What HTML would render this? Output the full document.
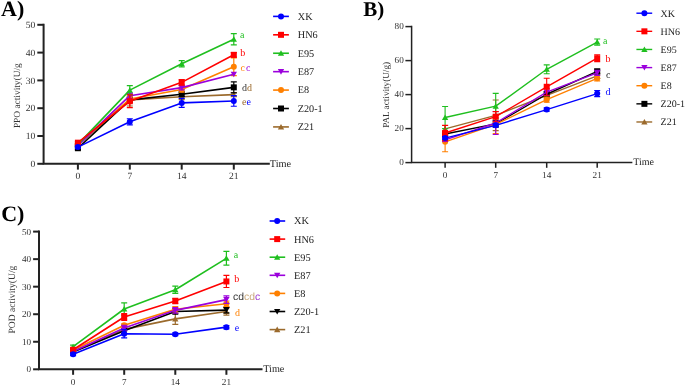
<!DOCTYPE html>
<html><head><meta charset="utf-8"><style>
html,body{margin:0;padding:0;background:#fff;}
svg{display:block;font-family:"Liberation Serif", serif;will-change:transform;text-rendering:geometricPrecision;filter:blur(0.35px);}
</style></head><body>
<svg width="685" height="386" viewBox="0 0 685 386">
<rect width="685" height="386" fill="#fff"/>
<polyline points="77.90,145.45 129.80,99.86 181.70,96.80 233.80,94.58" fill="none" stroke="#9b6a2c" stroke-width="1.6" stroke-linejoin="round"/>
<path d="M77.90 144.62V146.29M74.90 144.62H80.90M74.90 146.29H80.90" stroke="#9b6a2c" stroke-width="1.2" fill="none"/>
<path d="M129.80 93.74V105.98M126.80 93.74H132.80M126.80 105.98H132.80" stroke="#9b6a2c" stroke-width="1.2" fill="none"/>
<path d="M181.70 94.02V99.58M178.70 94.02H184.70M178.70 99.58H184.70" stroke="#9b6a2c" stroke-width="1.2" fill="none"/>
<path d="M233.80 92.63V96.52M230.80 92.63H236.80M230.80 96.52H236.80" stroke="#9b6a2c" stroke-width="1.2" fill="none"/>
<path d="M77.90 142.45L81.05 148.00L74.75 148.00Z" fill="#9b6a2c"/>
<path d="M129.80 96.86L132.95 102.41L126.65 102.41Z" fill="#9b6a2c"/>
<path d="M181.70 93.80L184.85 99.35L178.55 99.35Z" fill="#9b6a2c"/>
<path d="M233.80 91.58L236.95 97.13L230.65 97.13Z" fill="#9b6a2c"/>
<polyline points="77.90,148.23 129.80,99.86 181.70,94.30 233.80,87.35" fill="none" stroke="#000000" stroke-width="1.6" stroke-linejoin="round"/>
<path d="M77.90 146.84V149.62M74.90 146.84H80.90M74.90 149.62H80.90" stroke="#000000" stroke-width="1.2" fill="none"/>
<path d="M129.80 97.08V102.64M126.80 97.08H132.80M126.80 102.64H132.80" stroke="#000000" stroke-width="1.2" fill="none"/>
<path d="M181.70 92.08V96.52M178.70 92.08H184.70M178.70 96.52H184.70" stroke="#000000" stroke-width="1.2" fill="none"/>
<path d="M233.80 81.79V92.91M230.80 81.79H236.80M230.80 92.91H236.80" stroke="#000000" stroke-width="1.2" fill="none"/>
<rect x="74.90" y="145.23" width="6.00" height="6.00" fill="#000000"/>
<rect x="126.80" y="96.86" width="6.00" height="6.00" fill="#000000"/>
<rect x="178.70" y="91.30" width="6.00" height="6.00" fill="#000000"/>
<rect x="230.80" y="84.35" width="6.00" height="6.00" fill="#000000"/>
<polyline points="77.90,144.34 129.80,99.03 181.70,89.57 233.80,66.78" fill="none" stroke="#ff8000" stroke-width="1.6" stroke-linejoin="round"/>
<path d="M77.90 143.23V145.45M74.90 143.23H80.90M74.90 145.45H80.90" stroke="#ff8000" stroke-width="1.2" fill="none"/>
<path d="M129.80 96.25V101.81M126.80 96.25H132.80M126.80 101.81H132.80" stroke="#ff8000" stroke-width="1.2" fill="none"/>
<path d="M181.70 87.07V92.08M178.70 87.07H184.70M178.70 92.08H184.70" stroke="#ff8000" stroke-width="1.2" fill="none"/>
<path d="M233.80 57.88V75.67M230.80 57.88H236.80M230.80 75.67H236.80" stroke="#ff8000" stroke-width="1.2" fill="none"/>
<circle cx="77.90" cy="144.34" r="3.00" fill="#ff8000"/>
<circle cx="129.80" cy="99.03" r="3.00" fill="#ff8000"/>
<circle cx="181.70" cy="89.57" r="3.00" fill="#ff8000"/>
<circle cx="233.80" cy="66.78" r="3.00" fill="#ff8000"/>
<polyline points="77.90,145.45 129.80,95.69 181.70,87.63 233.80,74.28" fill="none" stroke="#9b00dc" stroke-width="1.6" stroke-linejoin="round"/>
<path d="M77.90 144.62V146.29M74.90 144.62H80.90M74.90 146.29H80.90" stroke="#9b00dc" stroke-width="1.2" fill="none"/>
<path d="M129.80 92.91V98.47M126.80 92.91H132.80M126.80 98.47H132.80" stroke="#9b00dc" stroke-width="1.2" fill="none"/>
<path d="M181.70 85.40V89.85M178.70 85.40H184.70M178.70 89.85H184.70" stroke="#9b00dc" stroke-width="1.2" fill="none"/>
<path d="M77.90 148.45L81.05 142.90L74.75 142.90Z" fill="#9b00dc"/>
<path d="M129.80 98.69L132.95 93.14L126.65 93.14Z" fill="#9b00dc"/>
<path d="M181.70 90.63L184.85 85.08L178.55 85.08Z" fill="#9b00dc"/>
<path d="M233.80 77.28L236.95 71.73L230.65 71.73Z" fill="#9b00dc"/>
<polyline points="77.90,144.34 129.80,90.13 181.70,63.72 233.80,39.26" fill="none" stroke="#1fbf1f" stroke-width="1.6" stroke-linejoin="round"/>
<path d="M77.90 143.23V145.45M74.90 143.23H80.90M74.90 145.45H80.90" stroke="#1fbf1f" stroke-width="1.2" fill="none"/>
<path d="M129.80 85.68V94.58M126.80 85.68H132.80M126.80 94.58H132.80" stroke="#1fbf1f" stroke-width="1.2" fill="none"/>
<path d="M181.70 60.66V66.78M178.70 60.66H184.70M178.70 66.78H184.70" stroke="#1fbf1f" stroke-width="1.2" fill="none"/>
<path d="M233.80 33.70V44.82M230.80 33.70H236.80M230.80 44.82H236.80" stroke="#1fbf1f" stroke-width="1.2" fill="none"/>
<path d="M77.90 141.34L81.05 146.89L74.75 146.89Z" fill="#1fbf1f"/>
<path d="M129.80 87.13L132.95 92.68L126.65 92.68Z" fill="#1fbf1f"/>
<path d="M181.70 60.72L184.85 66.27L178.55 66.27Z" fill="#1fbf1f"/>
<path d="M233.80 36.26L236.95 41.81L230.65 41.81Z" fill="#1fbf1f"/>
<polyline points="77.90,142.67 129.80,101.25 181.70,82.35 233.80,54.82" fill="none" stroke="#ff0000" stroke-width="1.6" stroke-linejoin="round"/>
<path d="M77.90 141.56V143.78M74.90 141.56H80.90M74.90 143.78H80.90" stroke="#ff0000" stroke-width="1.2" fill="none"/>
<path d="M129.80 94.86V107.64M126.80 94.86H132.80M126.80 107.64H132.80" stroke="#ff0000" stroke-width="1.2" fill="none"/>
<path d="M181.70 79.57V85.13M178.70 79.57H184.70M178.70 85.13H184.70" stroke="#ff0000" stroke-width="1.2" fill="none"/>
<path d="M233.80 52.60V57.05M230.80 52.60H236.80M230.80 57.05H236.80" stroke="#ff0000" stroke-width="1.2" fill="none"/>
<rect x="74.90" y="139.67" width="6.00" height="6.00" fill="#ff0000"/>
<rect x="126.80" y="98.25" width="6.00" height="6.00" fill="#ff0000"/>
<rect x="178.70" y="79.35" width="6.00" height="6.00" fill="#ff0000"/>
<rect x="230.80" y="51.82" width="6.00" height="6.00" fill="#ff0000"/>
<polyline points="77.90,147.12 129.80,121.82 181.70,102.92 233.80,100.97" fill="none" stroke="#0000ff" stroke-width="1.6" stroke-linejoin="round"/>
<path d="M77.90 146.01V148.23M74.90 146.01H80.90M74.90 148.23H80.90" stroke="#0000ff" stroke-width="1.2" fill="none"/>
<path d="M129.80 118.76V124.88M126.80 118.76H132.80M126.80 124.88H132.80" stroke="#0000ff" stroke-width="1.2" fill="none"/>
<path d="M181.70 98.47V107.37M178.70 98.47H184.70M178.70 107.37H184.70" stroke="#0000ff" stroke-width="1.2" fill="none"/>
<path d="M233.80 95.69V106.25M230.80 95.69H236.80M230.80 106.25H236.80" stroke="#0000ff" stroke-width="1.2" fill="none"/>
<circle cx="77.90" cy="147.12" r="3.00" fill="#0000ff"/>
<circle cx="129.80" cy="121.82" r="3.00" fill="#0000ff"/>
<circle cx="181.70" cy="102.92" r="3.00" fill="#0000ff"/>
<circle cx="233.80" cy="100.97" r="3.00" fill="#0000ff"/>
<path d="M43.60 24.80V163.80H268.80" stroke="#222" stroke-width="2.0" fill="none" stroke-linecap="square"/>
<path d="M37.30 163.80H43.60" stroke="#222" stroke-width="2.0"/>
<text x="35.30" y="167.00" text-anchor="end" font-size="9.6" fill="#333">0</text>
<path d="M37.30 136.00H43.60" stroke="#222" stroke-width="2.0"/>
<text x="35.30" y="139.20" text-anchor="end" font-size="9.6" fill="#333">10</text>
<path d="M37.30 108.20H43.60" stroke="#222" stroke-width="2.0"/>
<text x="35.30" y="111.40" text-anchor="end" font-size="9.6" fill="#333">20</text>
<path d="M37.30 80.40H43.60" stroke="#222" stroke-width="2.0"/>
<text x="35.30" y="83.60" text-anchor="end" font-size="9.6" fill="#333">30</text>
<path d="M37.30 52.60H43.60" stroke="#222" stroke-width="2.0"/>
<text x="35.30" y="55.80" text-anchor="end" font-size="9.6" fill="#333">40</text>
<path d="M37.30 24.80H43.60" stroke="#222" stroke-width="2.0"/>
<text x="35.30" y="28.00" text-anchor="end" font-size="9.6" fill="#333">50</text>
<path d="M77.90 163.80V169.60" stroke="#222" stroke-width="2.0"/>
<text x="77.90" y="179.30" text-anchor="middle" font-size="9.6" fill="#333">0</text>
<path d="M129.80 163.80V169.60" stroke="#222" stroke-width="2.0"/>
<text x="129.80" y="179.30" text-anchor="middle" font-size="9.6" fill="#333">7</text>
<path d="M181.70 163.80V169.60" stroke="#222" stroke-width="2.0"/>
<text x="181.70" y="179.30" text-anchor="middle" font-size="9.6" fill="#333">14</text>
<path d="M233.80 163.80V169.60" stroke="#222" stroke-width="2.0"/>
<text x="233.80" y="179.30" text-anchor="middle" font-size="9.6" fill="#333">21</text>
<text x="269.80" y="166.50" font-size="10.3" fill="#222">Time</text>
<text transform="translate(20.30,95.70) rotate(-90)" text-anchor="middle" font-size="9.4" fill="#333">PPO activity(U/g</text>
<text x="1.00" y="16.20" font-size="22" font-weight="bold" fill="#000">A)</text>
<path d="M273.10 16.40H288.90" stroke="#0000ff" stroke-width="1.6"/>
<circle cx="281.00" cy="16.40" r="3.00" fill="#0000ff"/>
<text x="297.80" y="19.80" font-size="10.2" fill="#222">XK</text>
<path d="M273.10 34.82H288.90" stroke="#ff0000" stroke-width="1.6"/>
<rect x="278.00" y="31.82" width="6.00" height="6.00" fill="#ff0000"/>
<text x="297.80" y="38.22" font-size="10.2" fill="#222">HN6</text>
<path d="M273.10 53.24H288.90" stroke="#1fbf1f" stroke-width="1.6"/>
<path d="M281.00 50.24L284.15 55.79L277.85 55.79Z" fill="#1fbf1f"/>
<text x="297.80" y="56.64" font-size="10.2" fill="#222">E95</text>
<path d="M273.10 71.66H288.90" stroke="#9b00dc" stroke-width="1.6"/>
<path d="M281.00 74.66L284.15 69.11L277.85 69.11Z" fill="#9b00dc"/>
<text x="297.80" y="75.06" font-size="10.2" fill="#222">E87</text>
<path d="M273.10 90.08H288.90" stroke="#ff8000" stroke-width="1.6"/>
<circle cx="281.00" cy="90.08" r="3.00" fill="#ff8000"/>
<text x="297.80" y="93.48" font-size="10.2" fill="#222">E8</text>
<path d="M273.10 108.50H288.90" stroke="#000000" stroke-width="1.6"/>
<rect x="278.00" y="105.50" width="6.00" height="6.00" fill="#000000"/>
<text x="297.80" y="111.90" font-size="10.2" fill="#222">Z20-1</text>
<path d="M273.10 126.92H288.90" stroke="#9b6a2c" stroke-width="1.6"/>
<path d="M281.00 123.92L284.15 129.47L277.85 129.47Z" fill="#9b6a2c"/>
<text x="297.80" y="130.32" font-size="10.2" fill="#222">Z21</text>
<text x="240.00" y="37.90" font-size="10" font-family='"Liberation Serif", serif'><tspan fill="#1fbf1f">a</tspan></text>
<text x="240.20" y="55.50" font-size="10" font-family='"Liberation Serif", serif'><tspan fill="#ff0000">b</tspan></text>
<text x="240.60" y="70.60" font-size="10" font-family='"Liberation Serif", serif'><tspan fill="#ff8000">c</tspan><tspan fill="#9b00dc" x="245.90">c</tspan></text>
<text x="242.00" y="90.80" font-size="10" font-family='"Liberation Serif", serif'><tspan fill="#333">d</tspan><tspan fill="#9b6a2c">d</tspan></text>
<text x="242.00" y="104.60" font-size="10" font-family='"Liberation Serif", serif'><tspan fill="#9b6a2c">e</tspan><tspan fill="#0000ff">e</tspan></text>
<polyline points="445.10,128.94 495.70,115.34 546.70,95.45 597.20,75.90" fill="none" stroke="#9b6a2c" stroke-width="1.4" stroke-linejoin="round"/>
<path d="M445.10 125.54V132.34M442.10 125.54H448.10M442.10 132.34H448.10" stroke="#9b6a2c" stroke-width="1.1" fill="none"/>
<path d="M495.70 100.04V130.64M492.70 100.04H498.70M492.70 130.64H498.70" stroke="#9b6a2c" stroke-width="1.1" fill="none"/>
<path d="M546.70 92.05V98.85M543.70 92.05H549.70M543.70 98.85H549.70" stroke="#9b6a2c" stroke-width="1.1" fill="none"/>
<path d="M597.20 73.35V78.45M594.20 73.35H600.20M594.20 78.45H600.20" stroke="#9b6a2c" stroke-width="1.1" fill="none"/>
<path d="M445.10 125.94L448.25 131.49L441.95 131.49Z" fill="#9b6a2c"/>
<path d="M495.70 112.34L498.85 117.89L492.55 117.89Z" fill="#9b6a2c"/>
<path d="M546.70 92.45L549.85 98.00L543.55 98.00Z" fill="#9b6a2c"/>
<path d="M597.20 72.90L600.35 78.45L594.05 78.45Z" fill="#9b6a2c"/>
<polyline points="445.10,134.04 495.70,123.84 546.70,94.26 597.20,71.48" fill="none" stroke="#000000" stroke-width="1.4" stroke-linejoin="round"/>
<path d="M445.10 131.49V136.59M442.10 131.49H448.10M442.10 136.59H448.10" stroke="#000000" stroke-width="1.1" fill="none"/>
<path d="M495.70 120.44V127.24M492.70 120.44H498.70M492.70 127.24H498.70" stroke="#000000" stroke-width="1.1" fill="none"/>
<path d="M546.70 91.71V96.81M543.70 91.71H549.70M543.70 96.81H549.70" stroke="#000000" stroke-width="1.1" fill="none"/>
<path d="M597.20 68.93V74.03M594.20 68.93H600.20M594.20 74.03H600.20" stroke="#000000" stroke-width="1.1" fill="none"/>
<rect x="442.10" y="131.04" width="6.00" height="6.00" fill="#000000"/>
<rect x="492.70" y="120.84" width="6.00" height="6.00" fill="#000000"/>
<rect x="543.70" y="91.26" width="6.00" height="6.00" fill="#000000"/>
<rect x="594.20" y="68.48" width="6.00" height="6.00" fill="#000000"/>
<polyline points="445.10,141.86 495.70,124.35 546.70,99.70 597.20,78.28" fill="none" stroke="#ff8000" stroke-width="1.4" stroke-linejoin="round"/>
<path d="M445.10 132.00V151.72M442.10 132.00H448.10M442.10 151.72H448.10" stroke="#ff8000" stroke-width="1.1" fill="none"/>
<path d="M495.70 115.17V133.53M492.70 115.17H498.70M492.70 133.53H498.70" stroke="#ff8000" stroke-width="1.1" fill="none"/>
<path d="M546.70 97.15V102.25M543.70 97.15H549.70M543.70 102.25H549.70" stroke="#ff8000" stroke-width="1.1" fill="none"/>
<path d="M597.20 75.73V80.83M594.20 75.73H600.20M594.20 80.83H600.20" stroke="#ff8000" stroke-width="1.1" fill="none"/>
<circle cx="445.10" cy="141.86" r="3.00" fill="#ff8000"/>
<circle cx="495.70" cy="124.35" r="3.00" fill="#ff8000"/>
<circle cx="546.70" cy="99.70" r="3.00" fill="#ff8000"/>
<circle cx="597.20" cy="78.28" r="3.00" fill="#ff8000"/>
<polyline points="445.10,139.82 495.70,122.99 546.70,92.05 597.20,72.84" fill="none" stroke="#9b00dc" stroke-width="1.4" stroke-linejoin="round"/>
<path d="M445.10 138.12V141.52M442.10 138.12H448.10M442.10 141.52H448.10" stroke="#9b00dc" stroke-width="1.1" fill="none"/>
<path d="M495.70 111.43V134.55M492.70 111.43H498.70M492.70 134.55H498.70" stroke="#9b00dc" stroke-width="1.1" fill="none"/>
<path d="M546.70 88.65V95.45M543.70 88.65H549.70M543.70 95.45H549.70" stroke="#9b00dc" stroke-width="1.1" fill="none"/>
<path d="M597.20 70.29V75.39M594.20 70.29H600.20M594.20 75.39H600.20" stroke="#9b00dc" stroke-width="1.1" fill="none"/>
<path d="M445.10 142.82L448.25 137.27L441.95 137.27Z" fill="#9b00dc"/>
<path d="M495.70 125.99L498.85 120.44L492.55 120.44Z" fill="#9b00dc"/>
<path d="M546.70 95.05L549.85 89.50L543.55 89.50Z" fill="#9b00dc"/>
<path d="M597.20 75.84L600.35 70.29L594.05 70.29Z" fill="#9b00dc"/>
<polyline points="445.10,117.55 495.70,106.16 546.70,69.27 597.20,42.07" fill="none" stroke="#1fbf1f" stroke-width="1.4" stroke-linejoin="round"/>
<path d="M445.10 106.50V128.60M442.10 106.50H448.10M442.10 128.60H448.10" stroke="#1fbf1f" stroke-width="1.1" fill="none"/>
<path d="M495.70 93.41V118.91M492.70 93.41H498.70M492.70 118.91H498.70" stroke="#1fbf1f" stroke-width="1.1" fill="none"/>
<path d="M546.70 64.85V73.69M543.70 64.85H549.70M543.70 73.69H549.70" stroke="#1fbf1f" stroke-width="1.1" fill="none"/>
<path d="M597.20 39.01V45.13M594.20 39.01H600.20M594.20 45.13H600.20" stroke="#1fbf1f" stroke-width="1.1" fill="none"/>
<path d="M445.10 114.55L448.25 120.10L441.95 120.10Z" fill="#1fbf1f"/>
<path d="M495.70 103.16L498.85 108.71L492.55 108.71Z" fill="#1fbf1f"/>
<path d="M546.70 66.27L549.85 71.82L543.55 71.82Z" fill="#1fbf1f"/>
<path d="M597.20 39.07L600.35 44.62L594.05 44.62Z" fill="#1fbf1f"/>
<polyline points="445.10,133.02 495.70,116.70 546.70,86.78 597.20,58.22" fill="none" stroke="#ff0000" stroke-width="1.4" stroke-linejoin="round"/>
<path d="M445.10 125.37V140.67M442.10 125.37H448.10M442.10 140.67H448.10" stroke="#ff0000" stroke-width="1.1" fill="none"/>
<path d="M495.70 111.60V121.80M492.70 111.60H498.70M492.70 121.80H498.70" stroke="#ff0000" stroke-width="1.1" fill="none"/>
<path d="M546.70 78.28V95.28M543.70 78.28H549.70M543.70 95.28H549.70" stroke="#ff0000" stroke-width="1.1" fill="none"/>
<path d="M597.20 54.82V61.62M594.20 54.82H600.20M594.20 61.62H600.20" stroke="#ff0000" stroke-width="1.1" fill="none"/>
<rect x="442.10" y="130.02" width="6.00" height="6.00" fill="#ff0000"/>
<rect x="492.70" y="113.70" width="6.00" height="6.00" fill="#ff0000"/>
<rect x="543.70" y="83.78" width="6.00" height="6.00" fill="#ff0000"/>
<rect x="594.20" y="55.22" width="6.00" height="6.00" fill="#ff0000"/>
<polyline points="445.10,138.12 495.70,125.37 546.70,109.56 597.20,93.58" fill="none" stroke="#0000ff" stroke-width="1.4" stroke-linejoin="round"/>
<path d="M445.10 136.76V139.48M442.10 136.76H448.10M442.10 139.48H448.10" stroke="#0000ff" stroke-width="1.1" fill="none"/>
<path d="M495.70 123.67V127.07M492.70 123.67H498.70M492.70 127.07H498.70" stroke="#0000ff" stroke-width="1.1" fill="none"/>
<path d="M546.70 107.86V111.26M543.70 107.86H549.70M543.70 111.26H549.70" stroke="#0000ff" stroke-width="1.1" fill="none"/>
<path d="M597.20 90.52V96.64M594.20 90.52H600.20M594.20 96.64H600.20" stroke="#0000ff" stroke-width="1.1" fill="none"/>
<circle cx="445.10" cy="138.12" r="3.00" fill="#0000ff"/>
<circle cx="495.70" cy="125.37" r="3.00" fill="#0000ff"/>
<circle cx="546.70" cy="109.56" r="3.00" fill="#0000ff"/>
<circle cx="597.20" cy="93.58" r="3.00" fill="#0000ff"/>
<path d="M411.60 26.60V162.60H631.60" stroke="#222" stroke-width="1.5" fill="none" stroke-linecap="square"/>
<path d="M405.40 162.60H411.60" stroke="#222" stroke-width="1.5"/>
<text x="403.80" y="165.10" text-anchor="end" font-size="9.2" fill="#333">0</text>
<path d="M405.40 128.60H411.60" stroke="#222" stroke-width="1.5"/>
<text x="403.80" y="131.10" text-anchor="end" font-size="9.2" fill="#333">20</text>
<path d="M405.40 94.60H411.60" stroke="#222" stroke-width="1.5"/>
<text x="403.80" y="97.10" text-anchor="end" font-size="9.2" fill="#333">40</text>
<path d="M405.40 60.60H411.60" stroke="#222" stroke-width="1.5"/>
<text x="403.80" y="63.10" text-anchor="end" font-size="9.2" fill="#333">60</text>
<path d="M405.40 26.60H411.60" stroke="#222" stroke-width="1.5"/>
<text x="403.80" y="29.10" text-anchor="end" font-size="9.2" fill="#333">80</text>
<path d="M445.10 162.60V167.80" stroke="#222" stroke-width="1.5"/>
<text x="445.10" y="177.50" text-anchor="middle" font-size="9.2" fill="#333">0</text>
<path d="M495.70 162.60V167.80" stroke="#222" stroke-width="1.5"/>
<text x="495.70" y="177.50" text-anchor="middle" font-size="9.2" fill="#333">7</text>
<path d="M546.70 162.60V167.80" stroke="#222" stroke-width="1.5"/>
<text x="546.70" y="177.50" text-anchor="middle" font-size="9.2" fill="#333">14</text>
<path d="M597.20 162.60V167.80" stroke="#222" stroke-width="1.5"/>
<text x="597.20" y="177.50" text-anchor="middle" font-size="9.2" fill="#333">21</text>
<text x="633.20" y="165.10" font-size="10" fill="#222">Time</text>
<text transform="translate(389.40,94.90) rotate(-90)" text-anchor="middle" font-size="9.2" fill="#333">PAL activity(U/g)</text>
<text x="363.20" y="15.90" font-size="21" font-weight="bold" fill="#000">B)</text>
<path d="M636.40 13.20H652.20" stroke="#0000ff" stroke-width="1.4"/>
<circle cx="644.40" cy="13.20" r="3.00" fill="#0000ff"/>
<text x="660.60" y="16.60" font-size="10.0" fill="#222">XK</text>
<path d="M636.40 31.33H652.20" stroke="#ff0000" stroke-width="1.4"/>
<rect x="641.40" y="28.33" width="6.00" height="6.00" fill="#ff0000"/>
<text x="660.60" y="34.73" font-size="10.0" fill="#222">HN6</text>
<path d="M636.40 49.46H652.20" stroke="#1fbf1f" stroke-width="1.4"/>
<path d="M644.40 46.46L647.55 52.01L641.25 52.01Z" fill="#1fbf1f"/>
<text x="660.60" y="52.86" font-size="10.0" fill="#222">E95</text>
<path d="M636.40 67.59H652.20" stroke="#9b00dc" stroke-width="1.4"/>
<path d="M644.40 70.59L647.55 65.04L641.25 65.04Z" fill="#9b00dc"/>
<text x="660.60" y="70.99" font-size="10.0" fill="#222">E87</text>
<path d="M636.40 85.72H652.20" stroke="#ff8000" stroke-width="1.4"/>
<circle cx="644.40" cy="85.72" r="3.00" fill="#ff8000"/>
<text x="660.60" y="89.12" font-size="10.0" fill="#222">E8</text>
<path d="M636.40 103.85H652.20" stroke="#000000" stroke-width="1.4"/>
<rect x="641.40" y="100.85" width="6.00" height="6.00" fill="#000000"/>
<text x="660.60" y="107.25" font-size="10.0" fill="#222">Z20-1</text>
<path d="M636.40 121.98H652.20" stroke="#9b6a2c" stroke-width="1.4"/>
<path d="M644.40 118.98L647.55 124.53L641.25 124.53Z" fill="#9b6a2c"/>
<text x="660.60" y="125.38" font-size="10.0" fill="#222">Z21</text>
<text x="603.10" y="44.00" font-size="10" font-family='"Liberation Serif", serif'><tspan fill="#1fbf1f">a</tspan></text>
<text x="605.60" y="61.70" font-size="10" font-family='"Liberation Serif", serif'><tspan fill="#ff0000">b</tspan></text>
<text x="606.00" y="77.90" font-size="10" font-family='"Liberation Serif", serif'><tspan fill="#222">c</tspan></text>
<text x="605.40" y="95.40" font-size="10" font-family='"Liberation Serif", serif'><tspan fill="#0000ff">d</tspan></text>
<polyline points="73.10,351.40 124.20,329.37 175.30,318.90 226.40,311.47" fill="none" stroke="#9b6a2c" stroke-width="1.6" stroke-linejoin="round"/>
<path d="M73.10 350.30V352.50M70.10 350.30H76.10M70.10 352.50H76.10" stroke="#9b6a2c" stroke-width="1.2" fill="none"/>
<path d="M124.20 325.24V333.50M121.20 325.24H127.20M121.20 333.50H127.20" stroke="#9b6a2c" stroke-width="1.2" fill="none"/>
<path d="M175.30 313.39V324.41M172.30 313.39H178.30M172.30 324.41H178.30" stroke="#9b6a2c" stroke-width="1.2" fill="none"/>
<path d="M226.40 307.89V315.05M223.40 307.89H229.40M223.40 315.05H229.40" stroke="#9b6a2c" stroke-width="1.2" fill="none"/>
<path d="M73.10 348.40L76.25 353.95L69.95 353.95Z" fill="#9b6a2c"/>
<path d="M124.20 326.37L127.35 331.92L121.05 331.92Z" fill="#9b6a2c"/>
<path d="M175.30 315.90L178.45 321.45L172.15 321.45Z" fill="#9b6a2c"/>
<path d="M226.40 308.47L229.55 314.02L223.25 314.02Z" fill="#9b6a2c"/>
<polyline points="73.10,351.95 124.20,330.74 175.30,311.47 226.40,310.09" fill="none" stroke="#000000" stroke-width="1.6" stroke-linejoin="round"/>
<path d="M73.10 351.12V352.78M70.10 351.12H76.10M70.10 352.78H76.10" stroke="#000000" stroke-width="1.2" fill="none"/>
<path d="M124.20 327.99V333.50M121.20 327.99H127.20M121.20 333.50H127.20" stroke="#000000" stroke-width="1.2" fill="none"/>
<path d="M175.30 308.71V314.22M172.30 308.71H178.30M172.30 314.22H178.30" stroke="#000000" stroke-width="1.2" fill="none"/>
<path d="M226.40 307.34V312.84M223.40 307.34H229.40M223.40 312.84H229.40" stroke="#000000" stroke-width="1.2" fill="none"/>
<path d="M73.10 354.95L76.25 349.40L69.95 349.40Z" fill="#000000"/>
<path d="M124.20 333.74L127.35 328.19L121.05 328.19Z" fill="#000000"/>
<path d="M175.30 314.47L178.45 308.92L172.15 308.92Z" fill="#000000"/>
<path d="M226.40 313.09L229.55 307.54L223.25 307.54Z" fill="#000000"/>
<polyline points="73.10,350.02 124.20,325.24 175.30,309.26 226.40,303.75" fill="none" stroke="#ff8000" stroke-width="1.6" stroke-linejoin="round"/>
<path d="M73.10 348.64V351.40M70.10 348.64H76.10M70.10 351.40H76.10" stroke="#ff8000" stroke-width="1.2" fill="none"/>
<path d="M124.20 323.86V326.61M121.20 323.86H127.20M121.20 326.61H127.20" stroke="#ff8000" stroke-width="1.2" fill="none"/>
<path d="M175.30 306.51V312.02M172.30 306.51H178.30M172.30 312.02H178.30" stroke="#ff8000" stroke-width="1.2" fill="none"/>
<path d="M226.40 301.00V306.51M223.40 301.00H229.40M223.40 306.51H229.40" stroke="#ff8000" stroke-width="1.2" fill="none"/>
<circle cx="73.10" cy="350.02" r="3.00" fill="#ff8000"/>
<circle cx="124.20" cy="325.24" r="3.00" fill="#ff8000"/>
<circle cx="175.30" cy="309.26" r="3.00" fill="#ff8000"/>
<circle cx="226.40" cy="303.75" r="3.00" fill="#ff8000"/>
<polyline points="73.10,351.40 124.20,327.99 175.30,310.36 226.40,299.62" fill="none" stroke="#9b00dc" stroke-width="1.6" stroke-linejoin="round"/>
<path d="M73.10 350.02V352.78M70.10 350.02H76.10M70.10 352.78H76.10" stroke="#9b00dc" stroke-width="1.2" fill="none"/>
<path d="M124.20 325.24V330.74M121.20 325.24H127.20M121.20 330.74H127.20" stroke="#9b00dc" stroke-width="1.2" fill="none"/>
<path d="M175.30 307.61V313.12M172.30 307.61H178.30M172.30 313.12H178.30" stroke="#9b00dc" stroke-width="1.2" fill="none"/>
<path d="M226.40 295.91V303.34M223.40 295.91H229.40M223.40 303.34H229.40" stroke="#9b00dc" stroke-width="1.2" fill="none"/>
<path d="M73.10 354.40L76.25 348.85L69.95 348.85Z" fill="#9b00dc"/>
<path d="M124.20 330.99L127.35 325.44L121.05 325.44Z" fill="#9b00dc"/>
<path d="M175.30 313.36L178.45 307.81L172.15 307.81Z" fill="#9b00dc"/>
<path d="M226.40 302.62L229.55 297.07L223.25 297.07Z" fill="#9b00dc"/>
<polyline points="73.10,346.72 124.20,308.99 175.30,289.71 226.40,258.31" fill="none" stroke="#1fbf1f" stroke-width="1.6" stroke-linejoin="round"/>
<path d="M73.10 345.06V348.37M70.10 345.06H76.10M70.10 348.37H76.10" stroke="#1fbf1f" stroke-width="1.2" fill="none"/>
<path d="M124.20 302.93V315.05M121.20 302.93H127.20M121.20 315.05H127.20" stroke="#1fbf1f" stroke-width="1.2" fill="none"/>
<path d="M175.30 286.13V293.29M172.30 286.13H178.30M172.30 293.29H178.30" stroke="#1fbf1f" stroke-width="1.2" fill="none"/>
<path d="M226.40 251.43V265.20M223.40 251.43H229.40M223.40 265.20H229.40" stroke="#1fbf1f" stroke-width="1.2" fill="none"/>
<path d="M73.10 343.72L76.25 349.27L69.95 349.27Z" fill="#1fbf1f"/>
<path d="M124.20 305.99L127.35 311.54L121.05 311.54Z" fill="#1fbf1f"/>
<path d="M175.30 286.71L178.45 292.26L172.15 292.26Z" fill="#1fbf1f"/>
<path d="M226.40 255.31L229.55 260.86L223.25 260.86Z" fill="#1fbf1f"/>
<polyline points="73.10,349.75 124.20,316.97 175.30,301.00 226.40,281.45" fill="none" stroke="#ff0000" stroke-width="1.6" stroke-linejoin="round"/>
<path d="M73.10 348.37V351.12M70.10 348.37H76.10M70.10 351.12H76.10" stroke="#ff0000" stroke-width="1.2" fill="none"/>
<path d="M124.20 313.67V320.28M121.20 313.67H127.20M121.20 320.28H127.20" stroke="#ff0000" stroke-width="1.2" fill="none"/>
<path d="M175.30 298.25V303.75M172.30 298.25H178.30M172.30 303.75H178.30" stroke="#ff0000" stroke-width="1.2" fill="none"/>
<path d="M226.40 275.39V287.51M223.40 275.39H229.40M223.40 287.51H229.40" stroke="#ff0000" stroke-width="1.2" fill="none"/>
<rect x="70.10" y="346.75" width="6.00" height="6.00" fill="#ff0000"/>
<rect x="121.20" y="313.97" width="6.00" height="6.00" fill="#ff0000"/>
<rect x="172.30" y="298.00" width="6.00" height="6.00" fill="#ff0000"/>
<rect x="223.40" y="278.45" width="6.00" height="6.00" fill="#ff0000"/>
<polyline points="73.10,354.15 124.20,333.77 175.30,334.32 226.40,327.16" fill="none" stroke="#0000ff" stroke-width="1.6" stroke-linejoin="round"/>
<path d="M73.10 352.78V355.53M70.10 352.78H76.10M70.10 355.53H76.10" stroke="#0000ff" stroke-width="1.2" fill="none"/>
<path d="M124.20 329.64V337.90M121.20 329.64H127.20M121.20 337.90H127.20" stroke="#0000ff" stroke-width="1.2" fill="none"/>
<path d="M175.30 332.95V335.70M172.30 332.95H178.30M172.30 335.70H178.30" stroke="#0000ff" stroke-width="1.2" fill="none"/>
<path d="M226.40 325.51V328.82M223.40 325.51H229.40M223.40 328.82H229.40" stroke="#0000ff" stroke-width="1.2" fill="none"/>
<circle cx="73.10" cy="354.15" r="3.00" fill="#0000ff"/>
<circle cx="124.20" cy="333.77" r="3.00" fill="#0000ff"/>
<circle cx="175.30" cy="334.32" r="3.00" fill="#0000ff"/>
<circle cx="226.40" cy="327.16" r="3.00" fill="#0000ff"/>
<path d="M39.00 231.60V369.30H261.50" stroke="#222" stroke-width="2.0" fill="none" stroke-linecap="square"/>
<path d="M33.10 369.30H39.00" stroke="#222" stroke-width="2.0"/>
<text x="31.20" y="372.30" text-anchor="end" font-size="9.2" fill="#333">0</text>
<path d="M33.10 341.76H39.00" stroke="#222" stroke-width="2.0"/>
<text x="31.20" y="344.76" text-anchor="end" font-size="9.2" fill="#333">10</text>
<path d="M33.10 314.22H39.00" stroke="#222" stroke-width="2.0"/>
<text x="31.20" y="317.22" text-anchor="end" font-size="9.2" fill="#333">20</text>
<path d="M33.10 286.68H39.00" stroke="#222" stroke-width="2.0"/>
<text x="31.20" y="289.68" text-anchor="end" font-size="9.2" fill="#333">30</text>
<path d="M33.10 259.14H39.00" stroke="#222" stroke-width="2.0"/>
<text x="31.20" y="262.14" text-anchor="end" font-size="9.2" fill="#333">40</text>
<path d="M33.10 231.60H39.00" stroke="#222" stroke-width="2.0"/>
<text x="31.20" y="234.60" text-anchor="end" font-size="9.2" fill="#333">50</text>
<path d="M73.10 369.30V374.80" stroke="#222" stroke-width="2.0"/>
<text x="73.10" y="384.80" text-anchor="middle" font-size="9.2" fill="#333">0</text>
<path d="M124.20 369.30V374.80" stroke="#222" stroke-width="2.0"/>
<text x="124.20" y="384.80" text-anchor="middle" font-size="9.2" fill="#333">7</text>
<path d="M175.30 369.30V374.80" stroke="#222" stroke-width="2.0"/>
<text x="175.30" y="384.80" text-anchor="middle" font-size="9.2" fill="#333">14</text>
<path d="M226.40 369.30V374.80" stroke="#222" stroke-width="2.0"/>
<text x="226.40" y="384.80" text-anchor="middle" font-size="9.2" fill="#333">21</text>
<text x="263.20" y="371.90" font-size="10.2" fill="#222">Time</text>
<text transform="translate(15.30,299.60) rotate(-90)" text-anchor="middle" font-size="9.6" fill="#333">POD activity(U/g</text>
<text x="1.20" y="221.30" font-size="22" font-weight="bold" fill="#000">C)</text>
<path d="M269.60 221.00H285.20" stroke="#0000ff" stroke-width="1.6"/>
<circle cx="277.20" cy="221.00" r="3.00" fill="#0000ff"/>
<text x="294.00" y="224.40" font-size="10.3" fill="#222">XK</text>
<path d="M269.60 239.10H285.20" stroke="#ff0000" stroke-width="1.6"/>
<rect x="274.20" y="236.10" width="6.00" height="6.00" fill="#ff0000"/>
<text x="294.00" y="242.50" font-size="10.3" fill="#222">HN6</text>
<path d="M269.60 257.20H285.20" stroke="#1fbf1f" stroke-width="1.6"/>
<path d="M277.20 254.20L280.35 259.75L274.05 259.75Z" fill="#1fbf1f"/>
<text x="294.00" y="260.60" font-size="10.3" fill="#222">E95</text>
<path d="M269.60 275.30H285.20" stroke="#9b00dc" stroke-width="1.6"/>
<path d="M277.20 278.30L280.35 272.75L274.05 272.75Z" fill="#9b00dc"/>
<text x="294.00" y="278.70" font-size="10.3" fill="#222">E87</text>
<path d="M269.60 293.40H285.20" stroke="#ff8000" stroke-width="1.6"/>
<circle cx="277.20" cy="293.40" r="3.00" fill="#ff8000"/>
<text x="294.00" y="296.80" font-size="10.3" fill="#222">E8</text>
<path d="M269.60 311.50H285.20" stroke="#000000" stroke-width="1.6"/>
<path d="M277.20 314.50L280.35 308.95L274.05 308.95Z" fill="#000000"/>
<text x="294.00" y="314.90" font-size="10.3" fill="#222">Z20-1</text>
<path d="M269.60 329.60H285.20" stroke="#9b6a2c" stroke-width="1.6"/>
<path d="M277.20 326.60L280.35 332.15L274.05 332.15Z" fill="#9b6a2c"/>
<text x="294.00" y="333.00" font-size="10.3" fill="#222">Z21</text>
<text x="233.70" y="258.40" font-size="10" font-family='"Liberation Serif", serif'><tspan fill="#1fbf1f">a</tspan></text>
<text x="234.30" y="282.40" font-size="10" font-family='"Liberation Serif", serif'><tspan fill="#ff0000">b</tspan></text>
<text x="233.00" y="299.60" font-size="10.4" font-family='"Liberation Sans", sans-serif'><tspan fill="#333">cd</tspan><tspan fill="#c9a97c">cd</tspan><tspan fill="#9b35d0">c</tspan></text>
<text x="235.00" y="315.50" font-size="10" font-family='"Liberation Serif", serif'><tspan fill="#ff8000">d</tspan></text>
<text x="234.80" y="331.40" font-size="10" font-family='"Liberation Serif", serif'><tspan fill="#0000ff">e</tspan></text>
</svg>
</body></html>
